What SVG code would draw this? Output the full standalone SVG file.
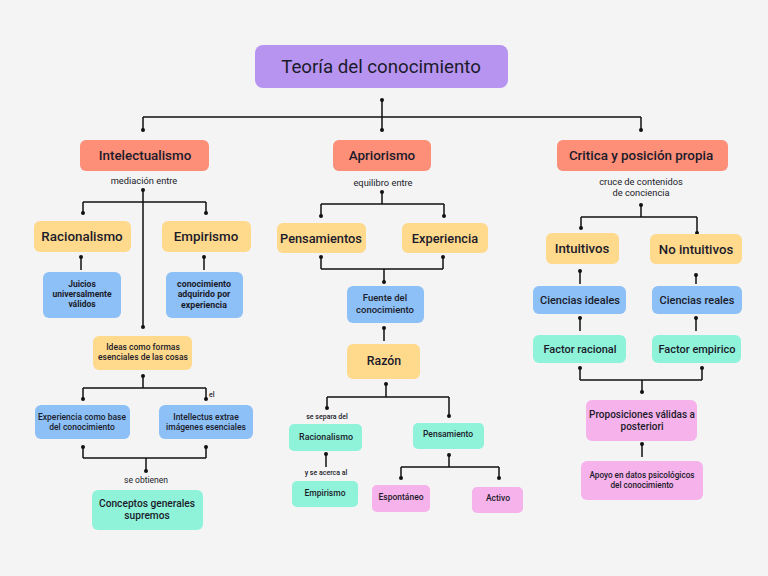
<svg xmlns="http://www.w3.org/2000/svg" width="768" height="576" viewBox="0 0 768 576">
<defs>
<style>
.bg{fill:#f4f4f4}
.purple{fill:#b794f0}
.salmon{fill:#fd8e78}
.yellow{fill:#ffd98c}
.blue{fill:#8cc0f6}
.mint{fill:#8ff3da}
.pink{fill:#f6b2ea}
text{font-family:Roboto,"Open Sans",sans-serif;fill:#1b1b2a;text-anchor:middle;dominant-baseline:central;font-weight:500}
.t1{font-size:18.7px;font-weight:400}
.t2{font-size:13.4px}
.t3{font-size:12.8px}
.t5{font-size:8.5px}
.t6{font-size:7px}
.lab{font-size:9.3px;font-weight:400}
.t10{font-size:11px}
.b{font-weight:700}
.lnk path{fill:none;stroke:#111;stroke-width:1.5}
.lnk circle{fill:#111}
</style>
</defs>
<rect class="bg" width="768" height="576"/>

<g id="connectors" class="lnk">
<path d="M382,100V117M143,117H641M143,117V130M382,117V130M641,117V130"/>
<circle cx="382" cy="100" r="2"/><circle cx="143" cy="130" r="2"/><circle cx="382" cy="130" r="2"/><circle cx="641" cy="130" r="2"/>
<path d="M143,190V327M83,202H206M83,202V213M206,202V213"/>
<circle cx="143" cy="190" r="2"/><circle cx="83" cy="213" r="2"/><circle cx="206" cy="213" r="2"/><circle cx="143" cy="327" r="2"/>
<path d="M81,257V270M204,257V270"/>
<circle cx="81" cy="257" r="2"/><circle cx="204" cy="257" r="2"/>
<path d="M143,376V388M83,388H206M83,388V399M206,388V399"/>
<circle cx="143" cy="376" r="2"/><circle cx="83" cy="399" r="2"/><circle cx="206" cy="399" r="2"/>
<path d="M83,447V458M206,447V458M83,458H206M146,458V471"/>
<circle cx="83" cy="447" r="2"/><circle cx="206" cy="447" r="2"/><circle cx="146" cy="471" r="2"/>
<path d="M382,192V204M321,204H444M321,204V216M444,204V216"/>
<circle cx="382" cy="192" r="2"/><circle cx="321" cy="216" r="2"/><circle cx="444" cy="216" r="2"/>
<path d="M321,257V269M443,257V269M321,269H443M384,269V282"/>
<circle cx="321" cy="257" r="2"/><circle cx="443" cy="257" r="2"/><circle cx="384" cy="282" r="2"/>
<path d="M384,328V341"/>
<circle cx="384" cy="328" r="2"/>
<path d="M386,384V397M327,397H449M327,397V408M449,397V416"/>
<circle cx="386" cy="384" r="2"/><circle cx="327" cy="408" r="2"/><circle cx="449" cy="416" r="2"/>
<path d="M326,454V467"/>
<circle cx="326" cy="454" r="2"/>
<path d="M449,455V467M401,467H499M401,467V478M499,467V478"/>
<circle cx="449" cy="455" r="2"/><circle cx="401" cy="478" r="2"/><circle cx="499" cy="478" r="2"/>
<path d="M641,205V217M581,217H697M581,217V228M697,217V233"/>
<circle cx="641" cy="205" r="2"/><circle cx="581" cy="228" r="2"/><circle cx="697" cy="233" r="2"/>
<path d="M580,271V284M696,275V284"/>
<circle cx="580" cy="271" r="2"/><circle cx="696" cy="275" r="2"/>
<path d="M580,318V331M696,318V331"/>
<circle cx="580" cy="318" r="2"/><circle cx="696" cy="318" r="2"/>
<path d="M580,368V380M702,368V380M580,380H702M642,380V392"/>
<circle cx="580" cy="368" r="2"/><circle cx="702" cy="368" r="2"/><circle cx="642" cy="392" r="2"/>
<path d="M642,444V457"/>
<circle cx="642" cy="444" r="2"/>
</g>

<g id="n-title"><rect class="purple" x="255" y="45" width="253" height="43" rx="8"/><text class="t1" x="381" y="67">Teoría del conocimiento</text></g>

<g id="n-intelectualismo"><rect class="salmon" x="80" y="140" width="129" height="31" rx="6"/><text class="t2" x="145" y="155">Intelectualismo</text></g>
<g id="l-mediacion"><text class="lab" x="144" y="180">mediación entre</text></g>
<g id="n-racionalismo"><rect class="yellow" x="34" y="221" width="97" height="31" rx="6"/><text class="t2" x="82" y="236">Racionalismo</text></g>
<g id="n-empirismo"><rect class="yellow" x="162" y="221" width="89" height="31" rx="6"/><text class="t2" x="206" y="236">Empirismo</text></g>
<g id="n-juicios"><rect class="blue" x="43" y="272" width="78" height="46" rx="6"/><text class="t5 b" x="82" y="284">Juicios<tspan x="82" dy="10">universalmente</tspan><tspan x="82" dy="10">válidos</tspan></text></g>
<g id="n-conocimiento-exp"><rect class="blue" x="166" y="272" width="77" height="46" rx="6"/><text class="t5 b" style="font-size:8.8px" x="204" y="283.5">conocimiento<tspan x="204" dy="10.5">adquirido por</tspan><tspan x="204" dy="10.5">experiencia</tspan></text></g>
<g id="n-ideas"><rect class="yellow" x="93" y="336" width="99" height="34" rx="6"/><text class="t5" x="143" y="347.3">Ideas como formas<tspan x="143" dy="10">esenciales de las cosas</tspan></text></g>
<g id="l-el"><text class="t6" x="209" y="395" style="text-anchor:start">el</text></g>
<g id="n-experiencia-base"><rect class="blue" x="35" y="405" width="95" height="34" rx="6"/><text class="t5" x="82" y="417.3">Experiencia como base<tspan x="82" dy="10">del conocimiento</tspan></text></g>
<g id="n-intellectus"><rect class="blue" x="159" y="405" width="94" height="34" rx="6"/><text class="t5" x="206" y="417.3">Intellectus extrae<tspan x="206" dy="10">imágenes esenciales</tspan></text></g>
<g id="l-obtienen"><text class="lab" style="font-size:8.5px" x="146" y="480">se obtienen</text></g>
<g id="n-conceptos"><rect class="mint" x="92" y="490" width="111" height="40" rx="6"/><text style="font-size:10.2px" x="147" y="503.3">Conceptos generales<tspan x="147" dy="12">supremos</tspan></text></g>

<g id="n-apriorismo"><rect class="salmon" x="333" y="140" width="98" height="31" rx="6"/><text class="t2" x="382" y="155">Apriorismo</text></g>
<g id="l-equilibro"><text class="lab" x="383" y="182">equilibro entre</text></g>
<g id="n-pensamientos"><rect class="yellow" x="277" y="223" width="89" height="30" rx="6"/><text class="t3" x="321" y="238">Pensamientos</text></g>
<g id="n-experiencia"><rect class="yellow" x="402" y="223" width="86" height="30" rx="6"/><text class="t3" x="445" y="238">Experiencia</text></g>
<g id="n-fuente"><rect class="blue" x="347" y="286" width="77" height="37" rx="6"/><text style="font-size:9.5px" x="385" y="297.8">Fuente del<tspan x="385" dy="11.3">conocimiento</tspan></text></g>
<g id="n-razon"><rect class="yellow" x="347" y="344" width="73" height="35" rx="6"/><text class="t3" style="font-size:12.3px" x="384" y="361">Razón</text></g>
<g id="l-separa"><text class="t6" x="327" y="417">se separa del</text></g>
<g id="n-racionalismo2"><rect class="mint" x="289" y="424" width="73" height="27" rx="5"/><text class="t5" style="font-size:8.9px" x="326" y="437">Racionalismo</text></g>
<g id="l-acerca"><text class="t6" x="326" y="473">y se acerca al</text></g>
<g id="n-empirismo2"><rect class="mint" x="292" y="481" width="66" height="26" rx="5"/><text class="t5" x="325" y="493">Empirismo</text></g>
<g id="n-pensamiento"><rect class="mint" x="413" y="423" width="71" height="26" rx="5"/><text class="t5" x="448" y="434">Pensamiento</text></g>
<g id="n-espontaneo"><rect class="pink" x="372" y="485" width="58" height="27" rx="5"/><text class="t5" x="401" y="497">Espontáneo</text></g>
<g id="n-activo"><rect class="pink" x="472" y="487" width="51" height="26" rx="5"/><text class="t5" x="498" y="498">Activo</text></g>

<g id="n-critica"><rect class="salmon" x="557" y="140" width="171" height="31" rx="6"/><text class="t2" x="641" y="155">Critica y posición propia</text></g>
<g id="l-cruce"><text class="lab" x="641" y="181">cruce de contenidos<tspan x="641" dy="11">de conciencia</tspan></text></g>
<g id="n-intuitivos"><rect class="yellow" x="546" y="233" width="73" height="31" rx="6"/><text class="t3" style="font-size:13.2px" x="582" y="248">Intuitivos</text></g>
<g id="n-nointuitivos"><rect class="yellow" x="650" y="234" width="92" height="30" rx="6"/><text class="t3" style="font-size:13.2px" x="696" y="249">No intuitivos</text></g>
<g id="n-ideales"><rect class="blue" x="533" y="286" width="93" height="28" rx="6"/><text class="t10" x="580" y="300">Ciencias ideales</text></g>
<g id="n-reales"><rect class="blue" x="652" y="286" width="90" height="28" rx="6"/><text class="t10" x="697" y="300">Ciencias reales</text></g>
<g id="n-factor-racional"><rect class="mint" x="533" y="335" width="93" height="28" rx="6"/><text class="t10" x="580" y="349">Factor racional</text></g>
<g id="n-factor-empirico"><rect class="mint" x="652" y="335" width="89" height="28" rx="6"/><text class="t10" x="697" y="349">Factor empirico</text></g>
<g id="n-proposiciones"><rect class="pink" x="586" y="400" width="111" height="41" rx="6"/><text style="font-size:10px" x="642" y="414.3">Proposiciones válidas a<tspan x="642" dy="11.8">posteriori</tspan></text></g>
<g id="n-apoyo"><rect class="pink" x="581" y="461" width="122" height="39" rx="6"/><text class="t5" style="font-size:8.2px" x="642" y="475.3">Apoyo en datos psicológicos<tspan x="642" dy="9.8">del conocimiento</tspan></text></g>
</svg>
